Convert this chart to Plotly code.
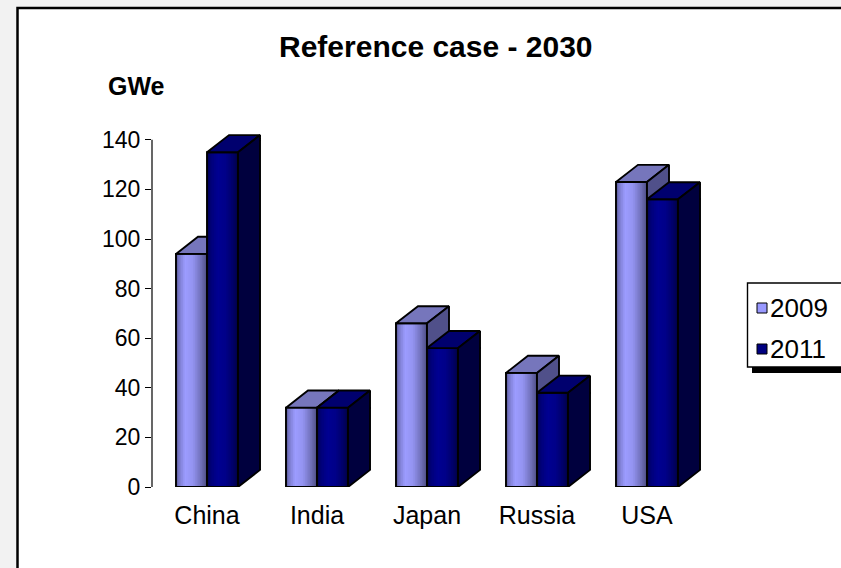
import plotly.graph_objects as go

# ---------------- data ----------------
categories = ["China", "India", "Japan", "Russia", "USA"]
series_names = ["2009", "2011"]
values_2009 = [94, 32, 66, 46, 123]
values_2011 = [135, 32, 56, 38, 116]
y_ticks = [0, 20, 40, 60, 80, 100, 120, 140]
title_text = "Reference case - 2030"
unit_text = "GWe"

# ---------------- layout constants ----------------
W, H = 841, 568
ML, MR, MT, MB = 152, 139, 115, 81
X_RANGE = [-0.5, 4.5]
Y_RANGE = [0, 150]
BAR_W = 0.282      # width of one bar front (category units)
DEPTH_X = 0.2      # 3D depth offset (category units)
DEPTH_Y = 6.9      # 3D depth offset (value units)
N_STRIPS = 18
FONT = "Liberation Sans, Arial, sans-serif"
EDGE_W = 1.9

STYLES = {
    "2009": dict(
        grad=[(0.0, "#545490"), (0.10, "#7a7acc"), (0.30, "#9c9cff"),
              (0.55, "#9393f0"), (0.80, "#7070ba"), (1.0, "#4c4c84")],
        top="#7676bc", side="#50508a", legend="#9999ff"),
    "2011": dict(
        grad=[(0.0, "#00004e"), (0.12, "#000078"), (0.35, "#000092"),
              (0.60, "#000088"), (0.85, "#000066"), (1.0, "#000044")],
        top="#00006e", side="#00003e", legend="#000080"),
}


def hex2rgb(h):
    h = h.lstrip("#")
    return tuple(int(h[i:i + 2], 16) for i in (0, 2, 4))


def grad_color(stops, t):
    for (t0, c0), (t1, c1) in zip(stops[:-1], stops[1:]):
        if t0 <= t <= t1:
            f = (t - t0) / (t1 - t0) if t1 > t0 else 0
            a, b = hex2rgb(c0), hex2rgb(c1)
            r = [round(a[i] + (b[i] - a[i]) * f) for i in range(3)]
            return "rgb(%d,%d,%d)" % tuple(r)
    return stops[-1][1]


fig = go.Figure()


def add_poly(xs, ys, fill, line_color=None, line_w=0.0):
    fig.add_trace(go.Scatter(
        x=xs, y=ys, mode="lines", fill="toself" if fill else "none",
        fillcolor=fill, hoverinfo="skip", showlegend=False,
        line=dict(color=line_color if line_color else (fill or "black"),
                  width=line_w)))


for s_idx, (name, vals) in enumerate(zip(series_names, [values_2009, values_2011])):
    st = STYLES[name]
    lefts = [i - BAR_W + s_idx * BAR_W for i in range(len(categories))]
    sw = BAR_W / N_STRIPS
    # front face gradient strips
    for k in range(N_STRIPS):
        xs, ys = [], []
        t = (k + 0.5) / N_STRIPS
        for l, v in zip(lefts, vals):
            x0 = l + k * sw
            x1 = l + (k + 1) * sw + (sw * 0.6 if k < N_STRIPS - 1 else 0)
            xs += [x0, x1, x1, x0, x0, None]
            ys += [0, 0, v, v, 0, None]
        add_poly(xs, ys, grad_color(st["grad"], t), line_w=0)
    # front outline
    xs, ys = [], []
    for l, v in zip(lefts, vals):
        r = l + BAR_W
        xs += [l, r, r, l, l, None]
        ys += [0, 0, v, v, 0, None]
    add_poly(xs, ys, None, "black", EDGE_W)
    # top face
    xs, ys = [], []
    for l, v in zip(lefts, vals):
        r = l + BAR_W
        xs += [l, r, r + DEPTH_X, l + DEPTH_X, l, None]
        ys += [v, v, v + DEPTH_Y, v + DEPTH_Y, v, None]
    add_poly(xs, ys, st["top"], "black", EDGE_W)
    # side face
    xs, ys = [], []
    for l, v in zip(lefts, vals):
        r = l + BAR_W
        xs += [r, r + DEPTH_X, r + DEPTH_X, r, r, None]
        ys += [0, DEPTH_Y, v + DEPTH_Y, v, 0, None]
    add_poly(xs, ys, st["side"], "black", EDGE_W)


def px(xp):
    return (xp - ML) / (W - ML - MR)


def py(yp):
    return (H - MB - yp) / (H - MT - MB)


shapes = [
    # chart frame
    dict(type="rect", xref="paper", yref="paper", layer="below",
         x0=px(17.5), x1=px(900), y0=py(620), y1=py(8),
         fillcolor="white", line=dict(color="black", width=2.5)),
    # value axis line
    dict(type="line", xref="paper", yref="y", x0=0, x1=0, y0=0, y1=y_ticks[-1],
         line=dict(color="black", width=1.2)),
    # legend shadow + box
    dict(type="rect", xref="paper", yref="paper", x0=px(752), x1=px(870),
         y0=py(373), y1=py(366), fillcolor="black", line=dict(width=0)),
    dict(type="rect", xref="paper", yref="paper", x0=px(747.5), x1=px(870),
         y0=py(367), y1=py(283), fillcolor="white",
         line=dict(color="black", width=1.4)),
]
annotations = [
    dict(text="<b>%s</b>" % title_text, xref="paper", yref="paper",
         x=px(436), y=py(47), showarrow=False, xanchor="center", yanchor="middle",
         font=dict(family=FONT, size=30, color="black")),
    dict(text="<b>%s</b>" % unit_text, xref="paper", yref="paper",
         x=px(136), y=py(86), showarrow=False, xanchor="center", yanchor="middle",
         font=dict(family=FONT, size=25, color="black")),
]
leg_y = [308, 349]
for name, yc in zip(series_names, leg_y):
    shapes.append(dict(type="rect", xref="paper", yref="paper",
                       x0=px(757), x1=px(767), y0=py(yc + 5), y1=py(yc - 5),
                       fillcolor=STYLES[name]["legend"],
                       line=dict(color="black", width=1)))
    annotations.append(dict(text=name, xref="paper", yref="paper",
                            x=px(768), y=py(yc), showarrow=False,
                            xanchor="left", yanchor="middle",
                            font=dict(family=FONT, size=26, color="black")))

fig.update_layout(
    width=W, height=H, autosize=False,
    margin=dict(l=ML, r=MR, t=MT, b=MB, pad=0),
    paper_bgcolor="#f2f2f2", plot_bgcolor="rgba(0,0,0,0)",
    showlegend=False, shapes=shapes, annotations=annotations,
    xaxis=dict(range=X_RANGE, tickvals=list(range(len(categories))),
               ticktext=categories, showgrid=False, zeroline=False,
               showline=False, ticks="", ticklabelstandoff=11,
               tickfont=dict(family=FONT, size=25, color="black"), fixedrange=True),
    yaxis=dict(range=Y_RANGE, tickvals=y_ticks, showgrid=False, zeroline=False,
               showline=False, ticks="outside", ticklen=6, tickcolor="black",
               tickwidth=1, tickfont=dict(family=FONT, size=23, color="black"),
               fixedrange=True),
)

fig.write_html("out.html")
